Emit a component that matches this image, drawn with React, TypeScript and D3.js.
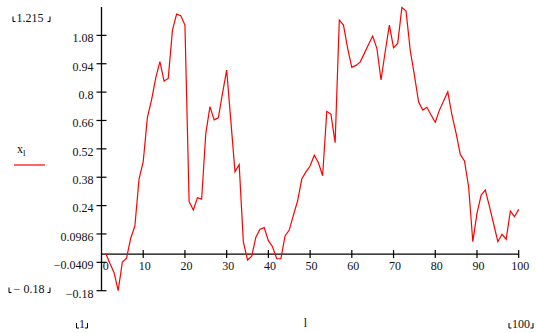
import * as d3 from 'd3';

// x_l for l = 1..100
const xl = [
    0.004, -0.045, -0.09, -0.18, -0.039, -0.02, 0.078, 0.138, 0.369, 0.454,
    0.672, 0.758, 0.867, 0.946, 0.851, 0.864, 1.1, 1.18, 1.172, 1.126,
    0.258, 0.217, 0.277, 0.27, 0.594, 0.725, 0.66, 0.67, 0.79, 0.905,
    0.655, 0.405, 0.44, 0.06, -0.029, -0.01, 0.083, 0.122, 0.13, 0.066,
    0.036, -0.023, -0.023, 0.089, 0.118, 0.192, 0.261, 0.369, 0.404, 0.433,
    0.486, 0.449, 0.385, 0.702, 0.687, 0.548, 1.151, 1.126, 1.012, 0.918,
    0.928, 0.944, 0.987, 1.031, 1.072, 1.012, 0.856, 0.995, 1.126, 1.015,
    1.036, 1.213, 1.195, 1.003, 0.88, 0.749, 0.708, 0.722, 0.684, 0.648,
    0.708, 0.753, 0.798, 0.684, 0.594, 0.49, 0.458, 0.331, 0.061, 0.2,
    0.29, 0.315, 0.233, 0.148, 0.061, 0.097, 0.073, 0.212, 0.184, 0.22,
];

const yLimits = [-0.18, 1.215];
const xLimits = [0, 100];
const yTickLabels = ['1.08', '0.94', '0.8', '0.66', '0.52', '0.38', '0.24', '0.0986', '\u22120.0409', '\u22120.18'];
const xTicks = [0, 10, 20, 30, 40, 50, 60, 70, 80, 90, 100];

const W = 536;
const H = 333;
const font = "'Liberation Serif', 'Times New Roman', serif";

// small Mathcad style limit marks: ⌞ text ⌟
const Corners = ({ x1, x2, y }: { x1: number; x2: number; y: number }) => (
    <g stroke="#000" strokeWidth={1} fill="none">
        <path d={`M${x1},${y - 5} V${y} H${x1 + 2.5}`} />
        <path d={`M${x2},${y - 5} V${y} H${x2 - 2.5}`} />
    </g>
);

const App = () => {
    const x = d3.scaleLinear().domain(xLimits).range([101.5, 518.7]);
    const y = d3.scaleLinear().domain(yLimits).range([290.7, 7]);

    const step = (yLimits[1] - yLimits[0]) / 10;
    const yTicks = yTickLabels.map((label, i) => ({
        label,
        value: yLimits[1] - step * (i + 1),
    }));

    const line = d3
        .line<number>()
        .x((_d, i) => x(i + 1))
        .y(d => y(d));

    return (
        <svg
            width={W}
            height={H}
            style={{ position: 'absolute', left: 0, top: 0, background: '#fff' }}
            fontFamily={font}
            fontSize={12}
        >
            {/* axes */}
            <line x1={x(0)} x2={x(0)} y1={y(yLimits[1])} y2={y(yLimits[0])} stroke="#000" strokeWidth={1.3} />
            <line x1={x(0)} x2={x(100)} y1={y(0)} y2={y(0)} stroke="#000" strokeWidth={1.3} />

            {yTicks.map(t => (
                <g key={t.label}>
                    <line x1={x(0) - 5} x2={x(0) + 5} y1={y(t.value)} y2={y(t.value)} stroke="#000" strokeWidth={1.2} />
                    <text x={x(0) - 8} y={y(t.value) + 6.8} textAnchor="end" fill="#111">
                        {t.label}
                    </text>
                </g>
            ))}

            {xTicks.map(t => (
                <g key={t}>
                    {t > 0 && (
                        <line x1={x(t)} x2={x(t)} y1={y(0) - 4} y2={y(0) + 4} stroke="#000" strokeWidth={1.2} />
                    )}
                    <text x={x(t) + (t === 0 ? 4.3 : 1.5)} y={y(0) + 16} textAnchor="middle" fill="#111">
                        {t}
                    </text>
                </g>
            ))}

            <path d={line(xl) ?? ''} fill="none" stroke="#ff0000" strokeWidth={1.2} />

            {/* y limits */}
            <text x={30} y={21.5} textAnchor="middle" fill="#111">1.215</text>
            <Corners x1={13} x2={50} y={21.5} />
            <text x={29} y={292.5} textAnchor="middle" fill="#111">{'\u2212 0.18'}</text>
            <Corners x1={9} x2={50} y={292.5} />

            {/* y expression */}
            <text x={17} y={153.3} fill="#111">
                x<tspan fontSize={9} dy={2.7}>l</tspan>
            </text>
            <line x1={14} x2={45} y1={165} y2={165} stroke="#ff0000" strokeWidth={1.2} />

            {/* x limits and expression */}
            <text x={82} y={328} textAnchor="middle" fill="#111">1</text>
            <Corners x1={76.5} x2={87.5} y={328} />
            <text x={305.5} y={327} textAnchor="middle" fill="#111">l</text>
            <text x={521} y={328} textAnchor="middle" fill="#111">100</text>
            <Corners x1={509} x2={533} y={328} />
        </svg>
    );
};

export default App;
